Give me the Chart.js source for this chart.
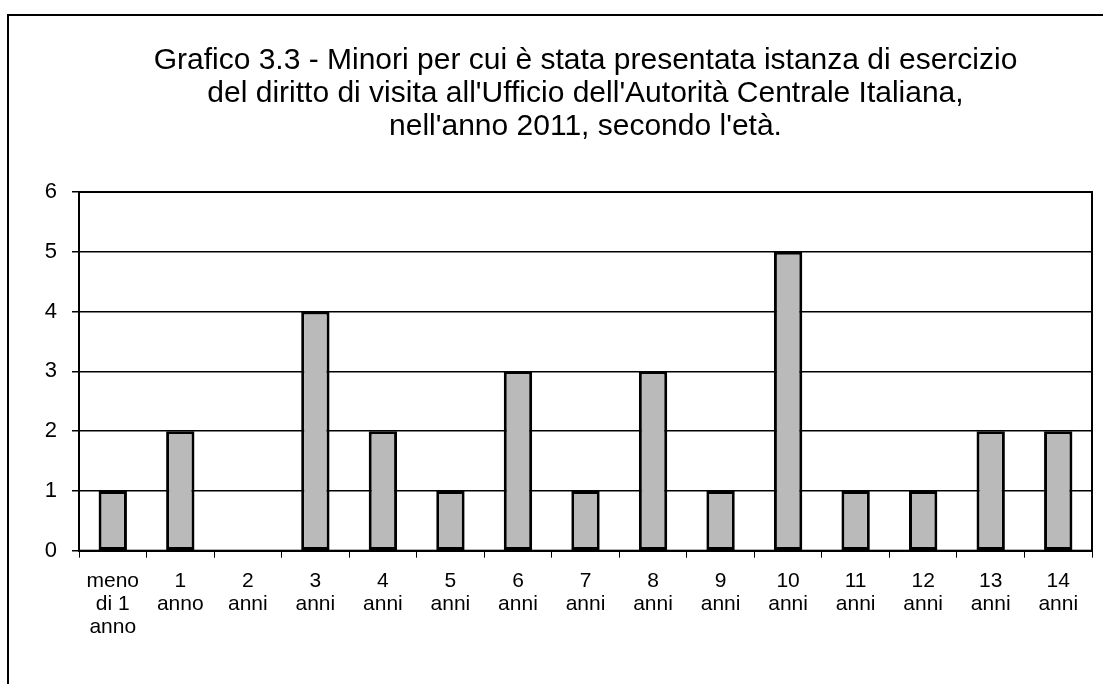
<!DOCTYPE html>
<html>
<head>
<meta charset="utf-8">
<script src="https://cdn.jsdelivr.net/npm/chart.js@4"></script>
<style>
  html, body { margin: 0; padding: 0; background: #fff; }
  #frame {
    position: absolute; left: 7px; top: 14px; right: 0; bottom: 0;
    border-left: 2px solid #000; border-top: 2px solid #000;
  }
  #wrap { position: absolute; left: 0; top: 0; width: 1103px; height: 684px; }
</style>
</head>
<body>
<div id="frame"></div>
<div id="wrap"><canvas id="chart" width="1103" height="684"></canvas></div>
<script>
// categorie (età) e valori
const categories = [
  ['meno', 'di 1', 'anno'], ['1', 'anno'], ['2', 'anni'], ['3', 'anni'], ['4', 'anni'],
  ['5', 'anni'], ['6', 'anni'], ['7', 'anni'], ['8', 'anni'], ['9', 'anni'],
  ['10', 'anni'], ['11', 'anni'], ['12', 'anni'], ['13', 'anni'], ['14', 'anni']
];
const minori = [1, 2, 0, 4, 2, 1, 3, 1, 3, 1, 5, 1, 1, 2, 2];
const yTicks = [0, 1, 2, 3, 4, 5, 6];

const titleLines = [
  'Grafico 3.3 - Minori per cui è stata presentata istanza di esercizio',
  "del diritto di visita all'Ufficio dell'Autorità Centrale Italiana,",
  "nell'anno 2011, secondo l'età."
];

// bordo dell'area del grafico
const areaBorder = {
  id: 'areaBorder',
  afterDraw(chart) {
    const { ctx, chartArea: a } = chart;
    ctx.save();
    ctx.strokeStyle = '#000';
    ctx.lineWidth = 2;
    ctx.strokeRect(a.left, a.top, a.right - a.left, a.bottom - a.top);
    ctx.restore();
  }
};

const ctx = document.getElementById('chart').getContext('2d');
new Chart(ctx, {
  type: 'bar',
  data: {
    labels: categories,
    datasets: [{
      data: minori,
      backgroundColor: '#bababa',
      borderColor: '#000',
      borderWidth: 3,
      borderSkipped: false,
      categoryPercentage: 1,
      barPercentage: 0.42
    }]
  },
  options: {
    responsive: false,
    animation: false,
    layout: { padding: { left: 0, right: 11, top: 0, bottom: 33 } },
    scales: {
      x: {
        grid: { offset: true, drawOnChartArea: false, drawTicks: true, tickLength: 7, color: '#000', lineWidth: 1 },
        border: { display: true, color: '#000', width: 2 },
        ticks: {
          color: '#000', padding: 12, maxRotation: 0, autoSkip: false,
          font: { family: 'Liberation Sans, Arial, sans-serif', size: 21, lineHeight: 1.1 }
        }
      },
      y: {
        min: 0, max: 6,
        afterBuildTicks: scale => { scale.ticks = yTicks.map(v => ({ value: v })); },
        afterFit: scale => { scale.width = 79; },
        grid: { color: '#000', lineWidth: 1.5, tickLength: 7 },
        border: { display: true, color: '#000', width: 2 },
        ticks: {
          color: '#000', padding: 15,
          font: { family: 'Liberation Sans, Arial, sans-serif', size: 22 }
        }
      }
    },
    plugins: {
      legend: { display: false },
      tooltip: { enabled: false },
      title: {
        display: true,
        text: titleLines,
        fullSize: false,
        color: '#000',
        font: { family: 'Liberation Sans, Arial, sans-serif', size: 30, weight: 'normal', lineHeight: 1.1 },
        padding: { top: 44, bottom: 49 }
      }
    }
  },
  plugins: [areaBorder]
});
</script>
</body>
</html>
